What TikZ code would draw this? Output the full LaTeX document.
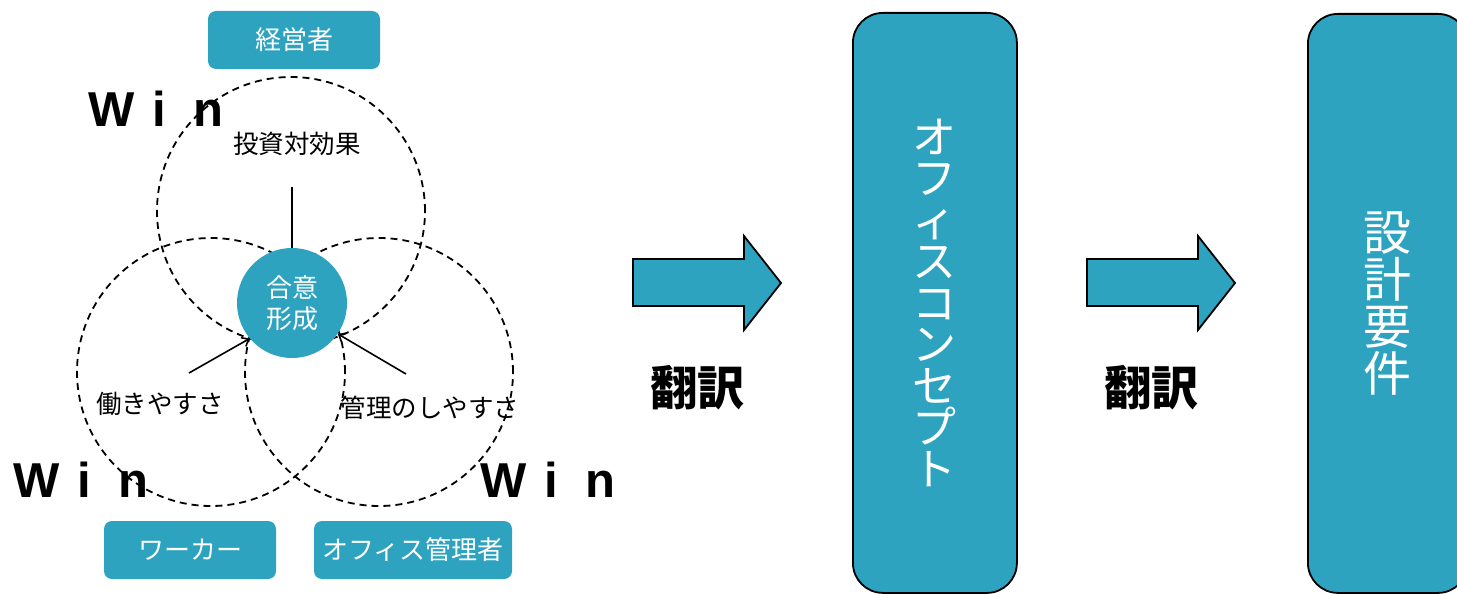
\documentclass[tikz,border=0pt]{standalone}
\usepackage{fontspec}
\newfontfamily\jp{Noto Sans CJK JP}
\newfontfamily\winfont{Liberation Sans}
\usetikzlibrary{arrows.meta}
\definecolor{tealc}{HTML}{2DA3BF}
\begin{document}
\begin{tikzpicture}[x=1pt,y=-1pt,
  rolebox/.style={fill=tealc, rounded corners=8pt, text=white, font=\jp\fontsize{26}{30}\selectfont, minimum height=58pt, inner sep=0pt},
  plain/.style={font=\jp\fontsize{25.5}{30}\selectfont, inner sep=0pt},
  dcircle/.style={draw, dash pattern=on 7pt off 5pt, line width=1.8pt},
  wintext/.style={font=\winfont\bfseries\fontsize{49}{50}\selectfont, inner sep=0pt},
  link/.style={draw, line width=1.6pt},
  tip/.style={-{Straight Barb[length=6pt,width=10pt]}},
  blockarrow/.style={draw, fill=tealc, line width=1.8pt, line join=miter},
  tallbox/.style={draw, fill=tealc, line width=1.8pt, rounded corners=30pt, text=white, align=center, inner sep=0pt},
  trans/.style={font=\jp\bfseries\fontsize{47}{50}\selectfont, inner sep=0pt}
]
\useasboundingbox (0,0) rectangle (1457,594);
\clip (0,0) rectangle (1457,594);

% Win labels
\node[wintext] (wintop) at (156,109) {W\hspace{4pt} i\hspace{14pt} n};
\node[wintext] (winleft) at (81,480) {W\hspace{4pt} i\hspace{14pt} n};
\node[wintext] (winright) at (548,480) {W\hspace{4pt} i\hspace{14pt} n};

% dashed circles
\draw[dcircle] (291,211) circle[radius=134pt];
\draw[dcircle] (211,372) circle[radius=134pt];
\draw[dcircle] (379,372) circle[radius=134pt];

% role boxes
\node[rolebox, minimum width=172pt] (keiei) at (294,40) {経営者};
\node[rolebox, minimum width=172pt] (worker) at (190,550) {ワーカー};
\node[rolebox, minimum width=198pt] (manager) at (413,550) {オフィス管理者};

% center
\node[circle, fill=tealc, minimum size=110pt, inner sep=0pt, text=white, align=center,
      font=\jp\fontsize{26}{31}\selectfont] (agree) at (292,303) {合意\\形成};

% texts
\node[plain] (roi) at (297,144) {投資対効果};
\node[plain] (work) at (160,404) {働きやすさ};
\node[plain] (manage) at (430,408) {管理のしやすさ};

% links
\coordinate (tline) at (292,187);
\draw[link] (tline) -- (agree.north);
\coordinate (lstart) at (189,373);
\draw[link, tip] (lstart) -- (agree.220);
\coordinate (rstart) at (406,374);
\draw[link, tip] (rstart) -- (agree.326);

% block arrows
\draw[blockarrow] (633,259) -- (744,259) -- (744,236) -- (781,283) -- (744,330) -- (744,306) -- (633,306) -- cycle;
\draw[blockarrow] (1087,259) -- (1198,259) -- (1198,236) -- (1235,283) -- (1198,330) -- (1198,306) -- (1087,306) -- cycle;

\node[trans] (trans1) at (697,388) {翻訳};
\node[trans] (trans2) at (1151,388) {翻訳};

% tall boxes
\node[tallbox, minimum width=164pt, minimum height=580pt, anchor=north west,
      font=\jp\fontsize{44}{41.5}\selectfont] (concept) at (852,12)
  {オ\\フ\\ィ\\ス\\コ\\ン\\セ\\プ\\ト};
\node[tallbox, minimum width=160pt, minimum height=579pt, anchor=north west,
      font=\jp\fontsize{48}{47}\selectfont] (req) at (1307,13)
  {設\\計\\要\\件};
\end{tikzpicture}
\end{document}
